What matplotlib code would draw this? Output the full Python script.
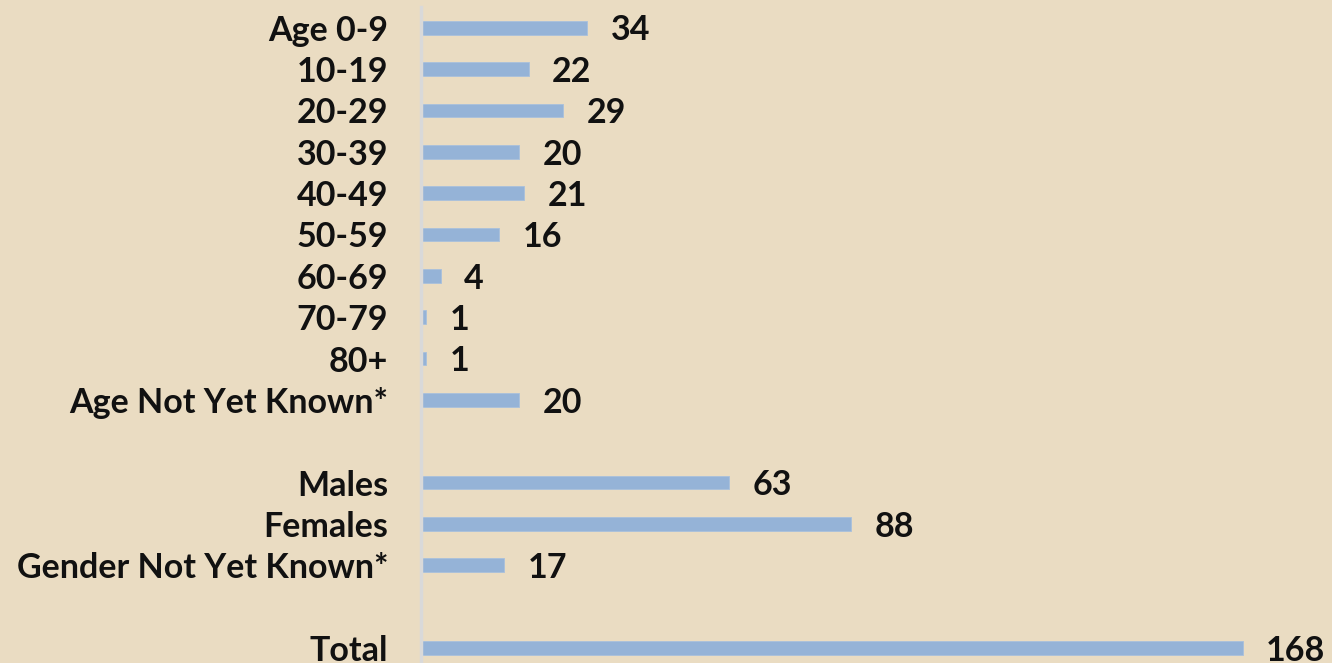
import matplotlib
matplotlib.use("Agg")
import matplotlib.pyplot as plt

# chart data (blank strings are the gaps between groups)
categories = ["Age 0-9", "10-19", "20-29", "30-39", "40-49", "50-59", "60-69",
              "70-79", "80+", "Age Not Yet Known*", "",
              "Males", "Females", "Gender Not Yet Known*", "",
              "Total"]
values = [34, 22, 29, 20, 21, 16, 4, 1, 1, 20, None, 63, 88, 17, None, 168]

bg = "#EADCC2"
bar_color = "#95B3D7"

plt.rcParams['font.family'] = ['Lato', 'DejaVu Sans']

fig = plt.figure(figsize=(13.32, 6.63), dpi=100, facecolor=bg)
# axes spans from the axis line (x=421px) to the right edge, top at 7px
ax = fig.add_axes([421 / 1332, 0, 1 - 421 / 1332, 656 / 663])
ax.set_facecolor(bg)

pos = list(range(len(categories)))
for y, v in zip(pos, values):
    if v is None:
        continue
    ax.barh(y, v, height=0.33, color=bar_color, edgecolor="#A9C0DC", linewidth=0.6)
    ax.annotate(str(v), (v, y), xytext=(17, -2), textcoords="offset points",
                ha="left", va="center", fontsize=24.5, fontweight="bold", color="#111111")

ax.set_xlim(0, 911 / 4.89)
ax.set_ylim(15 + 15 / 41.37, -0.5)
ax.set_yticks(pos)
ax.set_yticklabels(categories, fontsize=24.5, fontweight="bold", color="#111111")
ax.tick_params(axis="y", length=0, pad=23.5)
ax.set_xticks([])

for s in ["top", "right", "bottom"]:
    ax.spines[s].set_visible(False)
ax.spines["left"].set_color("#D9D9D9")
ax.spines["left"].set_linewidth(2.5)

fig.savefig("out.png", dpi=100, facecolor=bg)
